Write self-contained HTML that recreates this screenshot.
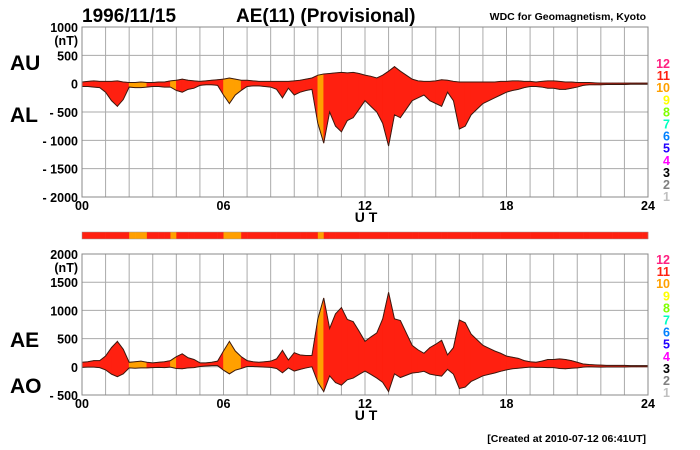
<!DOCTYPE html>
<html><head><meta charset="utf-8"><style>
body{margin:0;background:#fff;}
svg{display:block;font-family:"Liberation Sans",sans-serif;}
</style></head><body>
<svg id="c" width="700" height="450" viewBox="0 0 700 450" xmlns="http://www.w3.org/2000/svg">
<text x="82" y="22" font-size="19" font-weight="bold">1996/11/15</text>
<text x="236" y="22" font-size="19" font-weight="bold">AE(11) (Provisional)</text>
<text x="646" y="20" font-size="10.5" font-weight="bold" text-anchor="end">WDC for Geomagnetism, Kyoto</text>
<text x="10" y="70" font-size="21" font-weight="bold">AU</text>
<text x="10" y="122" font-size="21" font-weight="bold">AL</text>
<text x="10" y="347" font-size="21" font-weight="bold">AE</text>
<text x="10" y="393" font-size="21" font-weight="bold">AO</text>
<text x="366" y="222" font-size="14" font-weight="bold" text-anchor="middle">U T</text>
<text x="366" y="420" font-size="14" font-weight="bold" text-anchor="middle">U T</text>
<text x="646" y="442" font-size="10.5" font-weight="bold" text-anchor="end">[Created at 2010-07-12 06:41UT]</text>
</svg>
<script>
const hours=[0,6,12,18,24];
const topTicks=[1000,500,0,-500,-1000,-1500,-2000];
const botTicks=[2000,1500,1000,500,0,-500];
const stationLabels=[12,11,10,9,8,7,6,5,4,3,2,1];
const stationColors=["#ff2080","#ff2010","#ffa000","#ffff00","#80ff00","#00ffc0","#0080ff","#2000ff","#ff00ff","#000000","#808080","#c0c0c0"];
const AU=[30,40,50,40,40,40,50,30,20,20,30,20,20,30,30,50,60,80,60,50,40,50,60,70,80,100,80,60,60,50,40,40,40,40,40,40,50,60,80,100,150,170,180,190,200,190,200,180,150,130,100,150,220,300,220,150,80,50,40,40,50,70,60,40,30,30,30,30,30,30,30,40,40,50,50,40,40,30,40,50,50,40,30,30,20,20,20,15,10,10,10,10,10,10,10,10,10];
const AL=[-50,-50,-60,-70,-150,-300,-400,-280,-60,-70,-70,-60,-50,-50,-60,-60,-120,-150,-100,-80,-30,-20,-20,-30,-200,-350,-200,-120,-50,-40,-40,-50,-60,-100,-250,-80,-200,-150,-120,-100,-700,-1050,-500,-750,-850,-650,-600,-450,-300,-400,-500,-700,-1100,-550,-600,-450,-300,-250,-200,-300,-350,-400,-150,-300,-800,-750,-550,-450,-350,-300,-250,-200,-150,-120,-100,-70,-50,-50,-60,-80,-80,-100,-100,-80,-60,-30,-20,-20,-20,-15,-15,-15,-15,-10,-10,-10,-10];
// station count per quarter hour slot (96 slots)
const stations=[11,11,11,11,11,11,11,11,10,10,10,11,11,11,11,10,11,11,11,11,11,11,11,11,10,10,10,11,11,11,11,11,11,11,11,11,11,11,11,11,10,11,11,11,11,11,11,11,11,11,11,11,11,11,11,11,11,11,11,11,11,11,11,11,11,11,11,11,11,11,11,11,11,11,11,11,11,11,11,11,11,11,11,11,11,11,11,11,11,11,11,11,11,11,11,11];
const AE=AU.map((u,i)=>u-AL[i]);
const AO=AU.map((u,i)=>(u+AL[i])/2);

const svg=document.getElementById('c');
const NS="http://www.w3.org/2000/svg";
function mk(t,a,p){const e=document.createElementNS(NS,t);for(const k in a)e.setAttribute(k,a[k]);(p||svg).appendChild(e);return e;}
const X0=82,X1=648;
const xs=h=>X0+(X1-X0)*h/24;
const colorFor=n=>stationColors[12-n];

function panel(yTop,yBot,vMax,vMin,ticks,s1,s2,name,legTop){
  const ys=v=>yTop+(vMax-v)/(vMax-vMin)*(yBot-yTop);
  const g=mk('g',{});
  
  
  for(let h=1;h<24;h++){const l=mk('line',{x1:xs(h),x2:xs(h),y1:yTop,y2:yBot,stroke:'#aaa','stroke-width':1},g);
    }
  ticks.forEach((t,i)=>{
    if(t!==vMax&&t!==vMin){const l=mk('line',{x1:X0,x2:X1,y1:ys(t),y2:ys(t),stroke:'#aaa','stroke-width':1},g);
      }
    const tx=mk('text',{x:78,y:ys(t)+5,'font-size':12.5,'font-weight':'bold','text-anchor':'end'},g);
    tx.textContent=(t<0?'- '+(-t):String(t));
    
  });
  const u=mk('text',{x:78,y:ys(vMax)+18,'font-size':12.5,'font-weight':'bold','text-anchor':'end'},g);
  u.textContent='(nT)';
  // fill slots
  for(let i=0;i<96;i++){
    const h0=i*0.25,h1=h0+0.25;
    const p=`${xs(h0)},${ys(s1[i])} ${xs(h1)},${ys(s1[i+1])} ${xs(h1)},${ys(s2[i+1])} ${xs(h0)},${ys(s2[i])}`;
    const c=colorFor(stations[i]);
    const pg=mk('polygon',{points:p,fill:c,stroke:c,'stroke-width':0.6},g);
    
  }
  [s1,s2].forEach(s=>{
    const pts=s.map((v,i)=>`${xs(i*0.25)},${ys(v)}`).join(' ');
    const pl=mk('polyline',{points:pts,fill:'none',stroke:'#3a1a10','stroke-width':1},g);
    
  });
  const fr=mk('rect',{x:X0,y:yTop,width:X1-X0,height:yBot-yTop,fill:'none',stroke:'#888','stroke-width':1},g);
  
  hours.forEach(h=>{const t=mk('text',{x:xs(h),y:yBot+13,'font-size':12.5,'font-weight':'bold','text-anchor':'middle'},g);
    t.textContent=String(h).padStart(2,'0');});
  stationLabels.forEach((n,i)=>{const t=mk('text',{x:670,y:legTop+i*12.1,'font-size':12.5,'font-weight':'bold','text-anchor':'end',fill:stationColors[i]},g);
    t.textContent=n;});
}
panel(27,197,1000,-2000,topTicks,AU,AL,'au-al',68);
panel(254,395,2000,-500,botTicks,AE,AO,'ae-ao',264);
// station bar
for(let i=0;i<96;i++){
  const r=mk('rect',{x:xs(i*0.25),y:232,width:xs(0.25)-xs(0)+0.3,height:7,fill:colorFor(stations[i])});
  
  
}
const bf=mk('rect',{x:X0,y:232,width:X1-X0,height:7,fill:'none',stroke:'#999','stroke-width':0.5});


</script>
</body></html>
